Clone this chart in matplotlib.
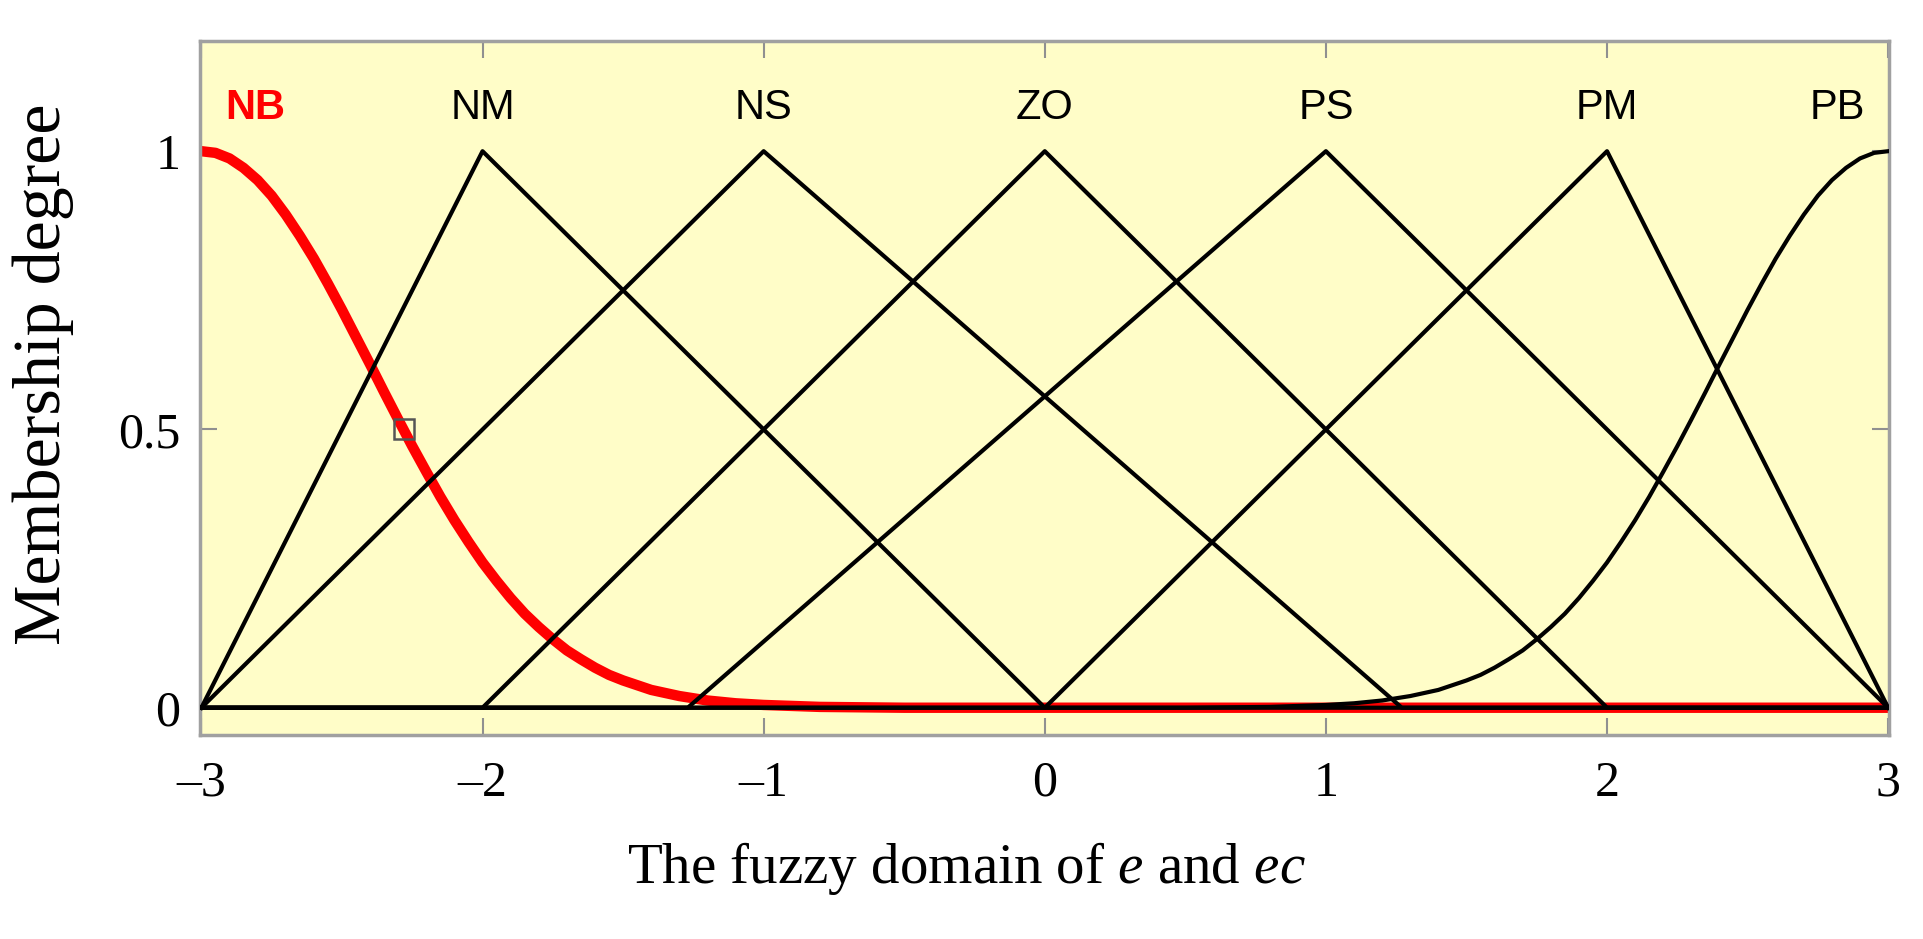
import numpy as np
import matplotlib
matplotlib.use('Agg')
import matplotlib.pyplot as plt

plt.rcParams['mathtext.fontset'] = 'custom'
plt.rcParams['mathtext.rm'] = 'Liberation Serif'
plt.rcParams['mathtext.it'] = 'Liberation Serif:italic'

# triangle sets: left foot, peak, right foot
TRI_NAMES = ['NM', 'NS', 'ZO', 'PS', 'PM']
TRI_FEET_L = [-3, -3, -2, -1.27, 0]
TRI_PEAKS = [-2, -1, 0, 1, 2]
TRI_FEET_R = [0, 1.27, 2, 3, 3]

# NB / PB curves
NB_X = [-3.0, -2.95, -2.9, -2.85, -2.8, -2.75, -2.7, -2.65, -2.6, -2.55, -2.5,
        -2.45, -2.4, -2.35, -2.3, -2.25, -2.2, -2.15, -2.1, -2.05, -2.0,
        -1.95, -1.9, -1.85, -1.8, -1.75, -1.7, -1.65, -1.6, -1.55, -1.5,
        -1.4, -1.3, -1.2, -1.1, -1.0, -0.8, -0.5, 3.0]
NB_Y = [1.0, 0.997, 0.987, 0.970, 0.948, 0.920, 0.886, 0.848, 0.807, 0.762, 0.715,
        0.666, 0.617, 0.567, 0.518, 0.470, 0.424, 0.379, 0.337, 0.298, 0.261,
        0.228, 0.197, 0.169, 0.145, 0.123, 0.103, 0.087, 0.072, 0.059, 0.049,
        0.032, 0.021, 0.013, 0.008, 0.005, 0.0015, 0.0, 0.0]
PB_X = [-3.0, 0.5, 0.8, 1.0, 1.1, 1.2, 1.3, 1.4, 1.5, 1.55, 1.6, 1.65, 1.7, 1.75,
        1.8, 1.85, 1.9, 1.95, 2.0, 2.05, 2.1, 2.15, 2.2, 2.25, 2.3, 2.35, 2.4,
        2.45, 2.5, 2.55, 2.6, 2.65, 2.7, 2.75, 2.8, 2.85, 2.9, 2.95, 3.0]
PB_Y = [0.0, 0.0, 0.0015, 0.005, 0.008, 0.013, 0.021, 0.032, 0.049, 0.059, 0.072, 0.087, 0.103, 0.123,
        0.145, 0.169, 0.197, 0.228, 0.261, 0.298, 0.337, 0.379, 0.424, 0.470, 0.518, 0.567, 0.617,
        0.666, 0.715, 0.762, 0.807, 0.848, 0.886, 0.920, 0.948, 0.970, 0.987, 0.997, 1.0]

LABELS = ['NB', 'NM', 'NS', 'ZO', 'PS', 'PM', 'PB']
LABEL_X = [-2.81, -2, -1, 0, 1, 2, 2.82]
LABEL_COLORS = ['red', 'black', 'black', 'black', 'black', 'black', 'black']

MARK_X, MARK_Y = -2.28, 0.5

XTICKS = [-3, -2, -1, 0, 1, 2, 3]
YTICKS = [0, 0.5, 1]
YTICK_LABELS = ['0', '0.5', '1']

fig = plt.figure(figsize=(19.24, 9.39), dpi=100)
ax = fig.add_axes([200 / 1924, 204 / 939, 1689 / 1924, 694 / 939])
ax.set_facecolor('#fffdc8')

ax.plot(NB_X, NB_Y, color='#ff0000', lw=7.5, solid_capstyle='butt', zorder=2)
for l, p, r in zip(TRI_FEET_L, TRI_PEAKS, TRI_FEET_R):
    ax.plot([-3, l, p, r, 3], [0, 0, 1, 0, 0], color='black', lw=3, zorder=3)
ax.plot(PB_X, PB_Y, color='black', lw=3, zorder=3)

ax.plot([MARK_X], [MARK_Y], marker='s', ms=14, mfc='none', mec='#555555', mew=1.8, zorder=4)

for name, x, c in zip(LABELS, LABEL_X, LABEL_COLORS):
    ax.text(x, 1.057, name, ha='center', va='baseline', fontsize=30, color=c,
            family='Liberation Sans', fontweight='bold' if name == 'NB' else 'normal')

ax.set_xlim(-3.005, 3.003)
ax.set_ylim(-0.049, 1.198)
ax.set_xticks(XTICKS)
ax.set_xticklabels(['\u2013%d' % -v if v < 0 else '%d' % v for v in XTICKS])
ax.set_yticks(YTICKS)
ax.set_yticklabels(YTICK_LABELS)
ax.tick_params(direction='in', length=12, width=1.5, color='#909090',
               top=True, right=True, labelsize=36, labelfontfamily='Liberation Serif')
ax.tick_params(axis='x', pad=18)
ax.tick_params(axis='y', pad=14)
for s in ax.spines.values():
    s.set_color('#a0a0a0')
    s.set_linewidth(2.5)

ax.set_xlabel('The fuzzy domain of $e$ and $ec$', fontsize=41, family='Liberation Serif')
ax.xaxis.set_label_coords(0.4535, -0.152)
ax.set_ylabel('Membership degree', fontsize=49, family='Liberation Serif', va='center')
ax.yaxis.set_label_coords(-0.093, 0.52)

fig.savefig('out.png', dpi=100, facecolor='white')
